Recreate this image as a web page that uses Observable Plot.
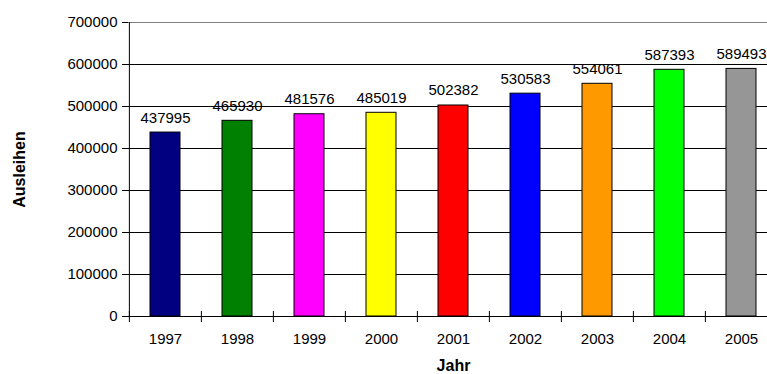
<!DOCTYPE html>
<html>
<head>
<meta charset="utf-8">
<script src="https://cdn.jsdelivr.net/npm/d3@7"></script>
<script src="https://cdn.jsdelivr.net/npm/@observablehq/plot@0.6"></script>
<style>
  html, body { margin: 0; padding: 0; background: #fff; overflow: hidden; }
  #chart svg { display: block; }
</style>
</head>
<body>
<div id="chart"></div>
<script>
const years = ["1997", "1998", "1999", "2000", "2001", "2002", "2003", "2004", "2005"];
const loans = [437995, 465930, 481576, 485019, 502382, 530583, 554061, 587393, 589493];
const barColors = ["#000080", "#008000", "#FF00FF", "#FFFF00", "#FF0000", "#0000FF", "#FF9900", "#00FF00", "#969696"];
const yTicks = [0, 100000, 200000, 300000, 400000, 500000, 600000, 700000];
const gridTicks = [100000, 200000, 300000, 400000, 500000, 600000];
const yTitle = "Ausleihen";
const xTitle = "Jahr";

const data = years.map((year, i) => ({year, value: loans[i], color: barColors[i]}));

const W = 767, H = 374, ML = 128, MR = -11, MT = 22, MB = 58;
const step = (W - ML - MR) / years.length;

const chart = Plot.plot({
  width: W, height: H,
  marginLeft: ML, marginRight: MR, marginTop: MT, marginBottom: MB,
  style: {fontFamily: "'Liberation Sans', Arial, sans-serif", fontSize: "15px", color: "#000", background: "#fff"},
  x: {type: "band", domain: years, paddingInner: 0.585, paddingOuter: 0.2925},
  y: {domain: [0, 700000]},
  color: {type: "identity"},
  marks: [
    Plot.ruleY(gridTicks, {stroke: "#000", strokeWidth: 1}),
    Plot.ruleY([700000], {stroke: "#808080", strokeWidth: 1}),
    Plot.barY(data, {x: "year", y: "value", fill: "color", stroke: "#000", strokeWidth: 1}),
    Plot.ruleY([0], {stroke: "#000", strokeWidth: 1}),
    Plot.ruleX([years[0]], {dx: -step / 2, stroke: "#000", strokeWidth: 1}),
    Plot.axisY({ticks: yTicks, tickSize: 6, tickPadding: 5, tickFormat: d => String(d), label: null, fontSize: 15}),
    Plot.axisX({tickSize: 0, tickPadding: 17, label: null, fontSize: 15}),
    Plot.axisX({tickSize: 11, dy: -5, dx: -step / 2, text: null, label: null}),
    Plot.text(data, {x: "year", y: "value", text: d => String(d.value), lineAnchor: "bottom", dy: -10, fontSize: 15}),
    Plot.text([yTitle], {frameAnchor: "left", dx: -109, rotate: -90, textAnchor: "middle", lineAnchor: "middle", fontWeight: "bold", fontSize: 16, text: d => d}),
    Plot.text([xTitle], {frameAnchor: "bottom", dy: 49, textAnchor: "middle", lineAnchor: "middle", fontWeight: "bold", fontSize: 16, text: d => d})
  ]
});
document.getElementById("chart").appendChild(chart);
</script>
</body>
</html>
